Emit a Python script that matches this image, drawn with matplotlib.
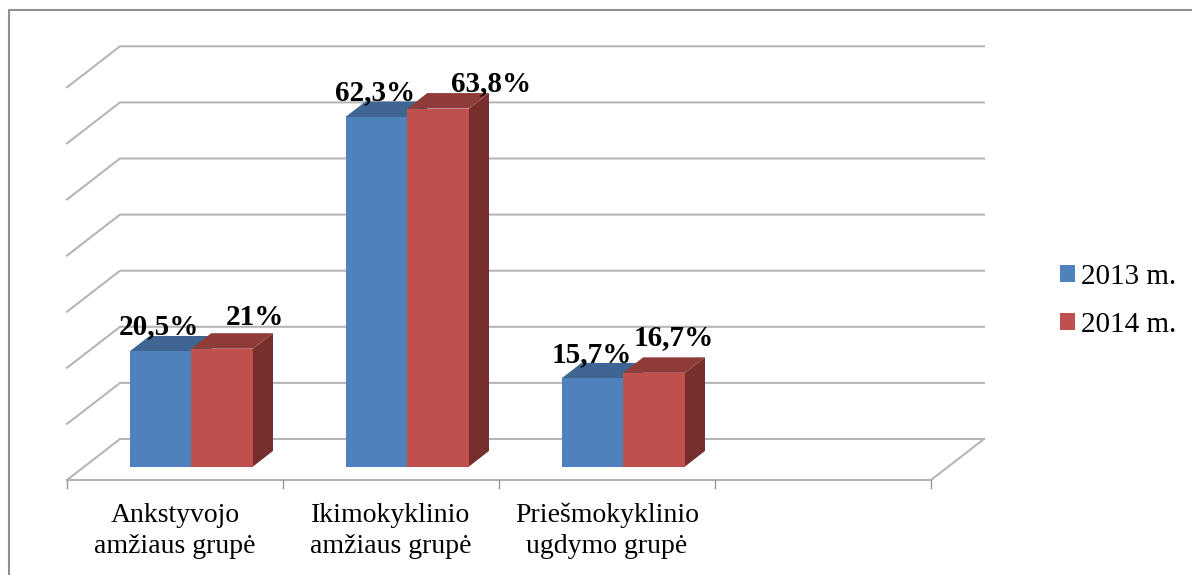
import matplotlib
matplotlib.use("Agg")
import matplotlib.pyplot as plt
from matplotlib.patches import Polygon, Patch
from matplotlib.lines import Line2D

categories = ["Ankstyvojo\namžiaus grupė", "Ikimokyklinio\namžiaus grupė", "Priešmokyklinio\nugdymo grupė"]
series_names = ["2013 m.", "2014 m."]
values_2013 = [20.5, 62.3, 15.7]
values_2014 = [21.0, 63.8, 16.7]
labels_2013 = ["20,5%", "62,3%", "15,7%"]
labels_2014 = ["21%", "63,8%", "16,7%"]
grid_values = [0, 10, 20, 30, 40, 50, 60, 70]
n_slots = 4

W, H, DPI = 1192, 575, 100
PX_X = 216.0      # pixels per category
PX_Y = 5.61       # pixels per percent
X0_PX, Y0_PX = 67.0, 466.5

plt.rcParams["font.family"] = ["Liberation Serif", "DejaVu Serif"]
fig = plt.figure(figsize=(W / DPI, H / DPI), dpi=DPI, facecolor="white")
ax = fig.add_axes([0, 0, 1, 1])
ax.set_xlim(-X0_PX / PX_X, (W - X0_PX) / PX_X)
ax.set_ylim(-(H - Y0_PX) / PX_Y, Y0_PX / PX_Y)
ax.axis("off")

def dx(px):
    return px / PX_X

def dy(px):
    return px / PX_Y

GRID = "#b4b4b4"
GRID_LW = 1.45
floor_front = dy(-13.5)
wall_dx, wall_dy = dx(53), dy(41)

# walls and floor
for v in grid_values:
    ax.plot([0, wall_dx, n_slots + wall_dx],
            [floor_front + v, floor_front + wall_dy + v, floor_front + wall_dy + v],
            color=GRID, lw=GRID_LW, zorder=1, solid_joinstyle="miter")
ax.plot([0, n_slots, n_slots + wall_dx],
        [floor_front, floor_front, floor_front + wall_dy],
        color=GRID, lw=GRID_LW, zorder=1, solid_joinstyle="miter")
for i in range(n_slots + 1):
    ax.plot([i, i], [floor_front, floor_front - dy(8)], color="#999999", lw=1.0, zorder=1)

# bars
bar_w = dx(61.75)
bar_off = dx(62.5)
d_x, d_y = dx(20), dy(15.5)
styles = [("#4F81BD", "#3F6593", "#385D8A"), ("#C0504D", "#8E3B39", "#772F2D")]

def bar3d(x, v, cols):
    front, top, side = cols
    ax.add_patch(Polygon([(x + bar_w, 0), (x + bar_w + d_x, d_y), (x + bar_w + d_x, v + d_y), (x + bar_w, v)],
                         fc=side, ec="none", zorder=3))
    ax.add_patch(Polygon([(x, v), (x + d_x, v + d_y), (x + bar_w + d_x, v + d_y), (x + bar_w, v)],
                         fc=top, ec="none", zorder=3))
    ax.add_patch(Polygon([(x, 0), (x + bar_w, 0), (x + bar_w, v), (x, v)],
                         fc=front, ec="none", zorder=3))

for i in range(len(categories)):
    bar3d(i + bar_off, values_2013[i], styles[0])
    bar3d(i + bar_off + bar_w, values_2014[i], styles[1])

# value labels: pixel nudges from the bar's top-front centre
nudge_2013 = [(-1, 17), (-1.5, 17), (-1, 16)]
nudge_2014 = [(33, 23.5), (52.5, 18), (20, 28)]
for i in range(len(categories)):
    for vals, labs, nudge, k in ((values_2013, labels_2013, nudge_2013, 0),
                                 (values_2014, labels_2014, nudge_2014, 1)):
        ax.annotate(labs[i], xy=(i + bar_off + bar_w * (k + 0.5), vals[i]),
                    xytext=(nudge[i][0] * 72 / DPI, nudge[i][1] * 72 / DPI),
                    textcoords="offset points", ha="center", va="baseline",
                    fontsize=21, fontweight="bold", color="black", zorder=5)

# category labels
for i, c in enumerate(categories):
    ax.text(i + 0.5, dy(Y0_PX - 503), c, ha="center", va="top", fontsize=20,
            color="black", linespacing=1.3, zorder=5)

# legend
handles = [Patch(fc=styles[0][0], ec="none"), Patch(fc=styles[1][0], ec="none")]
leg = ax.legend(handles, series_names, loc="upper left",
                bbox_to_anchor=(1060 / W, 1 - 264 / H), bbox_transform=fig.transFigure,
                frameon=False, fontsize=21, borderpad=0, borderaxespad=0,
                handlelength=0.5, handleheight=0.5, handletextpad=0.22, labelspacing=0.74)

# outer frame, running off the right and bottom of the picture
fig.add_artist(Line2D([8.5 / W, 8.5 / W, 1], [0, 1 - 10 / H, 1 - 10 / H],
                      transform=fig.transFigure, color="#8f8f8f", lw=1.5))

fig.savefig("out.png", dpi=DPI)
